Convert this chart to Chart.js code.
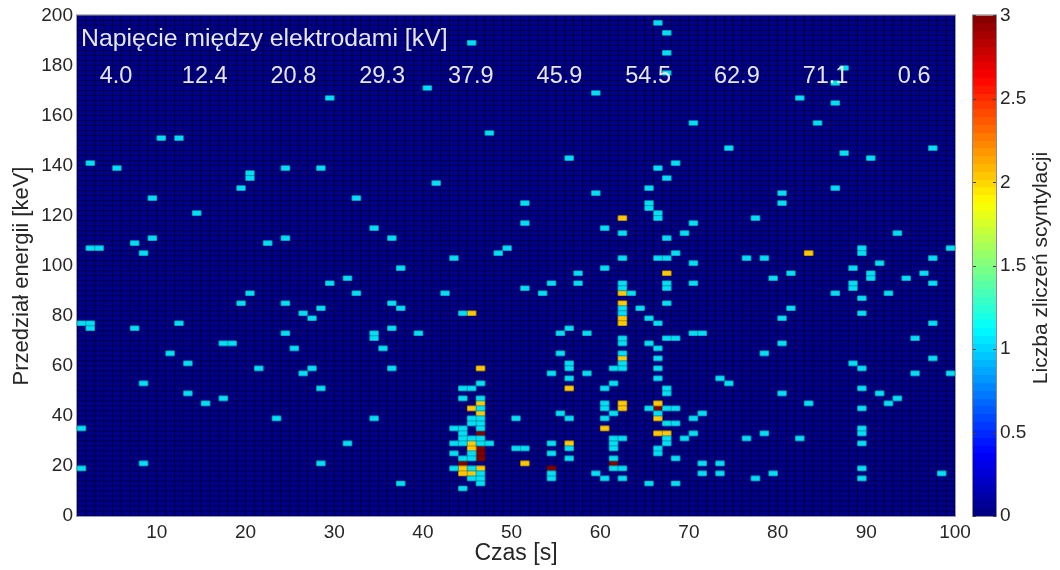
<!DOCTYPE html>
<html>
<head>
<meta charset="utf-8">
<script src="https://cdn.jsdelivr.net/npm/chart.js@4"></script>
<style>
  html, body { margin: 0; padding: 0; background: #fff; }
  #wrap { position: relative; width: 1060px; height: 570px; overflow: hidden; }
  #heat { position: absolute; left: 0; top: 0; }
  #bar { position: absolute; left: 960px; top: 0; }
</style>
</head>
<body>
<div id="wrap">
  <canvas id="heat" width="1060" height="570"></canvas>
  <canvas id="bar" width="100" height="570"></canvas>
</div>
<script>
// cells as [second, centre of the 2 keV bin], one list per count
const oneCount = [
  [2,141],[5,139],[10,151],[12,151],[29,167],[20,137],[20,135],[24,139],[28,139],[19,131],[9,127],[32,127],[14,121],[9,111],[24,111],[7,109],[22,109],[2,107],[3,107],[8,105],
  [1,77],[2,77],[2,75],[7,75],[12,77],[11,65],[13,61],[8,53],[13,49],[15,45],[17,47],[17,69],[18,69],[21,59],[19,85],[20,89],[24,85],[29,93],[31,95],[32,89],[28,83],[26,81],[27,79],[24,73],[25,67],[27,59],[26,57],[28,51],[23,39],[31,29],[28,21],[8,21],[1,35],[1,19],
  [45,189],[40,171],[59,169],[47,153],[56,143],[41,133],[59,129],[51,125],[51,117],[65,131],[65,125],[65,123],[60,115],[62,113],[34,115],[36,111],[48,105],[49,107],[43,103],[62,103],[60,99],[37,99],
  [57,97],[54,93],[57,93],[51,91],[53,89],[42,89],[62,93],[62,91],[63,89],[62,83],[62,81],[64,83],[65,79],[65,69],[62,71],[62,69],[62,65],[62,61],[62,59],[61,59],[58,73],[56,75],[55,73],[55,65],[56,61],[56,59],[54,57],[58,57],[56,55],[61,53],[60,51],[60,45],[60,43],[65,43],[61,41],[55,41],[56,39],[60,39],[50,39],[61,31],[62,31],[61,29],[61,27],[56,27],[56,23],[54,29],[54,25],[50,27],[51,27],[54,17],[54,15],[61,23],[61,19],[62,19],[59,17],[60,15],[62,15],[65,13],[37,13],[36,85],[37,83],[36,75],[34,73],[34,71],[39,73],[35,67],[36,59],[34,39],
  [44,81],[46,53],[44,51],[45,51],[44,47],[46,47],[46,43],[45,39],[46,39],[45,37],[46,37],[43,35],[44,35],[46,35],[44,33],[44,31],[45,31],[46,31],[43,29],[44,29],[46,29],[47,29],[43,25],[45,25],[44,23],[45,23],[43,19],[45,19],[46,17],[45,15],[46,15],[46,13],[44,11],
  [66,197],[67,193],[67,185],[67,177],[70,157],[74,147],[66,139],[68,141],[67,135],[66,121],[66,119],[70,117],[69,113],[67,111],[68,105],[66,103],[67,103],[70,101],[77,119],[76,103],[78,103],[80,129],[80,125],[82,167],[84,157],[86,173],[86,165],[87,179],[87,145],[90,143],[86,131],[97,147],[93,113],[89,107],[89,105],[88,99],[91,101],[97,103],[99,107],
  [67,93],[67,91],[70,93],[67,85],[66,77],[70,73],[71,73],[67,71],[68,71],[66,67],[66,63],[66,59],[66,55],[73,55],[74,53],[67,51],[67,49],[67,43],[68,43],[66,41],[71,41],[70,39],[67,37],[68,37],[70,33],[69,31],[67,31],[67,29],[66,27],[66,25],[68,23],[71,21],[73,21],[71,17],[73,17],[68,13],[76,31],[78,33],[77,15],[79,17],[82,31],[83,45],[80,49],[78,65],[80,69],[80,79],[81,83],[79,95],[81,97],[86,89],[88,93],[88,91],[90,97],[90,95],[89,87],[92,89],[94,95],[96,97],[97,93],[89,81],[97,77],[95,71],[97,63],[88,61],[89,59],[95,57],[99,57],[89,51],[91,49],[93,47],[92,45],[89,43],[89,35],[89,33],[89,29],[89,19],[89,15],[98,17]
];
const twoCounts = [
  [62,119],[62,89],[62,85],[62,79],[62,77],[62,63],[45,81],[46,59],[46,45],[45,43],[46,41],[45,29],[45,27],[44,19],[46,19],[44,17],[45,17],[51,21],[56,51],[56,29],[60,35],[62,45],[62,43],[66,45],[66,39],[66,33],[67,33],[67,97],[83,105]
];
const threeCounts = [[46,33],[46,27],[46,25],[46,23],[44,21],[54,19],[61,21],[66,43]];

const voltages = ["4.0", "12.4", "20.8", "29.3", "37.9", "45.9", "54.5", "62.9", "71.1", "0.6"];
const voltageSeconds = [5.4, 15.4, 25.4, 35.4, 45.4, 55.4, 65.4, 75.4, 85.4, 95.4];

const textFont = "'Liberation Sans', Arial, sans-serif";
const inkColor = "#262626";

// a bin spans the second to the next one and 2 keV around its centre
function toBars(cells) {
  return cells.map((c) => ({ x: c[0] + 0.5, y: [c[1] - 1, c[1] + 1] }));
}

function cellSet(cells, color) {
  return {
    data: toBars(cells),
    backgroundColor: color,
    borderWidth: 0,
    grouped: false,
    barPercentage: 1,
    categoryPercentage: 1,
  };
}

// not snapped to pixels, the lines blur as in the scaled original
function drawCellGrid(chart, color) {
  const { ctx, chartArea: a, scales } = chart;
  ctx.save();
  ctx.strokeStyle = color;
  ctx.lineWidth = 1;
  ctx.beginPath();
  for (let s = 1; s <= 100; s++) {
    const x = scales.x.getPixelForValue(s);
    ctx.moveTo(x, a.top);
    ctx.lineTo(x, a.bottom);
  }
  for (let k = 0; k <= 200; k += 2) {
    const y = scales.y.getPixelForValue(k);
    ctx.moveTo(a.left, y);
    ctx.lineTo(a.right, y);
  }
  ctx.stroke();
  ctx.restore();
}

// navy ground, cell grid, frame and the captions
const heatDecor = {
  id: "heatDecor",
  beforeDraw(chart) {
    const a = chart.chartArea;
    chart.ctx.fillStyle = "#00008c";
    chart.ctx.fillRect(a.left, a.top, a.right - a.left, a.bottom - a.top);
  },
  beforeDatasetsDraw(chart) {
    drawCellGrid(chart, "rgba(0,0,30,0.45)");
  },
  afterDatasetsDraw(chart) {
    drawCellGrid(chart, "rgba(0,0,30,0.3)");
  },
  afterDraw(chart) {
    const { ctx, chartArea: a, scales } = chart;
    ctx.save();
    ctx.strokeStyle = "#9a9ab0";
    ctx.lineWidth = 1;
    ctx.strokeRect(a.left - 0.5, a.top - 0.5, a.right - a.left + 1, a.bottom - a.top + 1);
    ctx.fillStyle = "#e6e6ee";
    ctx.font = "24.8px " + textFont;
    ctx.textBaseline = "middle";
    ctx.textAlign = "left";
    ctx.fillText("Napięcie między elektrodami [kV]", scales.x.getPixelForValue(1.45), scales.y.getPixelForValue(190.4));
    ctx.font = "23.5px " + textFont;
    ctx.textAlign = "center";
    voltages.forEach((v, i) => {
      ctx.fillText(v, scales.x.getPixelForValue(voltageSeconds[i]), scales.y.getPixelForValue(175.7));
    });
    ctx.translate(22, 276);
    ctx.rotate(-Math.PI / 2);
    ctx.fillStyle = inkColor;
    ctx.font = "22px " + textFont;
    ctx.fillText("Przedział energii [keV]", 0, 0);
    ctx.restore();
  },
};

new Chart(document.getElementById("heat"), {
  type: "bar",
  data: {
    datasets: [
      cellSet(oneCount, "#00e0f5"),
      cellSet(twoCounts, "#ffc800"),
      cellSet(threeCounts, "#800000"),
    ],
  },
  options: {
    responsive: false,
    animation: false,
    layout: { padding: { left: 0, top: 14, right: 105, bottom: 0 } },
    plugins: { legend: { display: false }, tooltip: { enabled: false } },
    scales: {
      x: {
        type: "linear",
        min: 1,
        max: 100,
        offset: false,
        afterFit: (s) => { s.height = 54; },
        grid: { display: false, drawTicks: false },
        border: { display: false },
        ticks: {
          stepSize: 10,
          autoSkip: false,
          maxRotation: 0,
          padding: 5,
          color: inkColor,
          font: { family: textFont, size: 19 },
          callback: (v) => (v % 10 === 0 ? String(v) : null),
        },
        title: {
          display: true,
          text: "Czas [s]",
          color: inkColor,
          font: { family: textFont, size: 23 },
          padding: { top: 0, bottom: 3 },
        },
      },
      y: {
        min: 0,
        max: 200,
        afterFit: (s) => { s.width = 77; },
        grid: { display: false, drawTicks: false },
        border: { display: false },
        ticks: {
          stepSize: 20,
          autoSkip: false,
          padding: 4,
          color: inkColor,
          font: { family: textFont, size: 19 },
        },
      },
    },
  },
  plugins: [heatDecor],
});

// jet colormap, 64 hard steps
function jetColor(t) {
  const part = (c) => Math.round(255 * Math.max(0, Math.min(1, 1.5 - Math.abs(4 * t - c))));
  return `rgb(${part(3)},${part(2)},${part(1)})`;
}

function jetFill(context) {
  const { ctx, chartArea: a } = context.chart;
  if (!a) return "#000";
  const g = ctx.createLinearGradient(0, a.bottom, 0, a.top);
  for (let i = 0; i < 64; i++) {
    const color = jetColor((i + 0.5) / 64);
    g.addColorStop(i / 64, color);
    g.addColorStop((i + 1) / 64, color);
  }
  return g;
}

// tick stubs on both edges and the rotated caption, reading upwards
const barDecor = {
  id: "barDecor",
  afterDraw(chart) {
    const { ctx, chartArea: a, scales } = chart;
    ctx.save();
    ctx.strokeStyle = "#8c8c8c";
    ctx.lineWidth = 1;
    ctx.strokeRect(a.left - 0.5, a.top - 0.5, a.right - a.left + 1, a.bottom - a.top + 1);
    ctx.strokeStyle = "#404040";
    scales.y.ticks.forEach((t) => {
      const y = Math.round(scales.y.getPixelForValue(t.value)) + 0.5;
      ctx.beginPath();
      ctx.moveTo(a.left, y);
      ctx.lineTo(a.left + 3, y);
      ctx.moveTo(a.right - 3, y);
      ctx.lineTo(a.right, y);
      ctx.stroke();
    });
    ctx.translate(81, 268);
    ctx.rotate(-Math.PI / 2);
    ctx.fillStyle = inkColor;
    ctx.font = "21px " + textFont;
    ctx.textAlign = "center";
    ctx.textBaseline = "middle";
    ctx.fillText("Liczba zliczeń scyntylacji", 0, 0);
    ctx.restore();
  },
};

new Chart(document.getElementById("bar"), {
  type: "bar",
  data: {
    labels: [""],
    datasets: [{
      data: [[0, 3]],
      backgroundColor: jetFill,
      borderWidth: 0,
      barPercentage: 1,
      categoryPercentage: 1,
    }],
  },
  options: {
    responsive: false,
    animation: false,
    layout: { padding: { left: 13, top: 14, right: 0, bottom: 54 } },
    plugins: { legend: { display: false }, tooltip: { enabled: false } },
    scales: {
      x: { display: false },
      y: {
        position: "right",
        min: 0,
        max: 3,
        afterFit: (s) => { s.width = 64; },
        grid: { display: false, drawTicks: false },
        border: { display: false },
        ticks: {
          stepSize: 0.5,
          padding: 4,
          color: inkColor,
          font: { family: textFont, size: 19 },
          callback: (v) => String(v),
        },
      },
    },
  },
  plugins: [barDecor],
});
</script>
</body>
</html>
